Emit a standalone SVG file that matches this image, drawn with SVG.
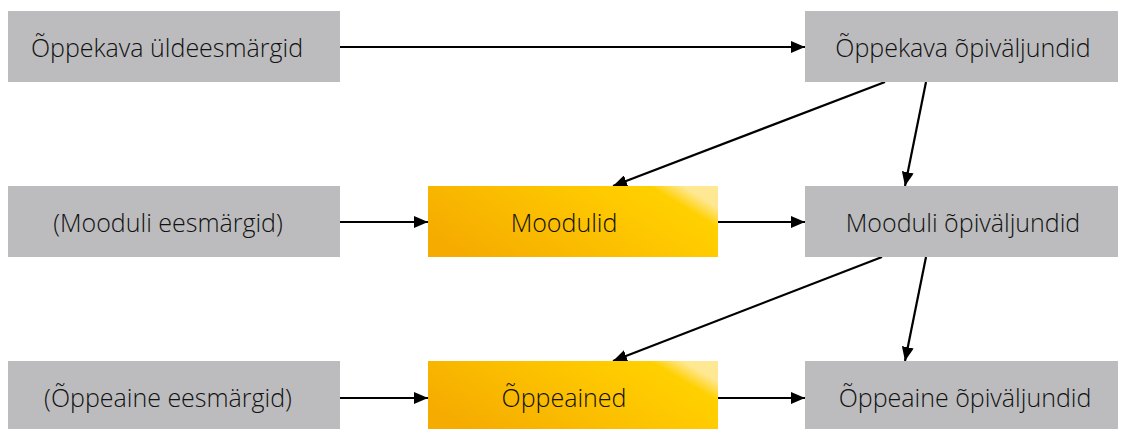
<svg xmlns="http://www.w3.org/2000/svg" width="1122" height="429" viewBox="0 0 1122 429">
<defs>
<style>
.g{fill:#bcbcbe}
.o{fill:url(#og)}
text{font-family:"Open Sans","Liberation Sans",sans-serif;font-size:25px;font-weight:300;fill:#111;text-anchor:middle;dominant-baseline:central}
.c line{stroke:#000;stroke-width:2.2;marker-end:url(#ah)}
</style>
<linearGradient id="og" x1="0" y1="0.7" x2="1" y2="0.3">
<stop offset="0" stop-color="#f5ab00"/>
<stop offset="0.75" stop-color="#ffcb00"/>
<stop offset="0.9" stop-color="#ffd000"/>
<stop offset="1" stop-color="#ffe894"/>
</linearGradient>
<marker id="ah" viewBox="0 0 14 12" refX="14" refY="6" markerWidth="14" markerHeight="12" markerUnits="userSpaceOnUse" orient="auto">
<path d="M0,0L14,6L0,12z" fill="#000"/>
</marker>
</defs>
<rect width="1122" height="429" fill="#fff"/>
<g class="c">
<line x1="340" y1="47" x2="805" y2="47"/>
<line x1="340" y1="222" x2="428" y2="222"/>
<line x1="718" y1="222" x2="805" y2="222"/>
<line x1="340" y1="398" x2="428" y2="398"/>
<line x1="718" y1="398" x2="805" y2="398"/>
<line x1="885" y1="82" x2="613" y2="186"/>
<line x1="926" y1="82" x2="905" y2="186"/>
<line x1="882" y1="257" x2="613" y2="361"/>
<line x1="926" y1="257" x2="905" y2="361"/>
</g>
<g id="n1"><rect class="g" x="8" y="11" width="332" height="71"/><text x="167" y="47">Õppekava üldeesmärgid</text></g>
<g id="n2"><rect class="g" x="805" y="11" width="313" height="71"/><text x="963" y="47">Õppekava õpiväljundid</text></g>
<g id="n3"><rect class="g" x="8" y="186" width="332" height="71"/><text x="168" y="222">(Mooduli eesmärgid)</text></g>
<g id="n4"><rect class="o" x="428" y="186" width="290" height="71"/><text x="564" y="222">Moodulid</text></g>
<g id="n5"><rect class="g" x="805" y="186" width="313" height="71"/><text x="963" y="222">Mooduli õpiväljundid</text></g>
<g id="n6"><rect class="g" x="8" y="361" width="332" height="68"/><text x="168" y="397">(Õppeaine eesmärgid)</text></g>
<g id="n7"><rect class="o" x="428" y="361" width="290" height="68"/><text x="564" y="397">Õppeained</text></g>
<g id="n8"><rect class="g" x="805" y="361" width="313" height="68"/><text x="965" y="397">Õppeaine õpiväljundid</text></g>
</svg>
